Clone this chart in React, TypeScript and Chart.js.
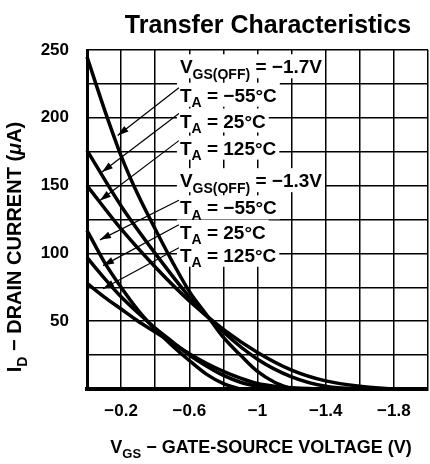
import React, { useEffect, useRef } from "react";
import { Chart, registerables } from "chart.js";

Chart.register(...registerables);

const FONT = '"Liberation Sans", Arial, Helvetica, sans-serif';

const chartTitle = "Transfer Characteristics";

// VGS(OFF) = -1.7 V
const vA = [0, -0.1, -0.2, -0.3, -0.4, -0.5, -0.6, -0.7, -0.8, -0.9, -1.0, -1.1, -1.2];
const iA = [245, 207, 172, 143, 118, 94, 72, 55, 38, 25, 13, 5, 0];
const vB = [0, -0.2, -0.4, -0.6, -0.8, -1.0, -1.2, -1.4, -1.6];
const iB = [176, 135, 100, 68, 42, 22, 9, 2, 0];
const vC = [0, -0.2, -0.4, -0.6, -0.8, -1.0, -1.2, -1.4, -1.6, -1.8];
const iC = [150, 118, 90, 65, 44, 27, 14, 6, 2, 0];
// VGS(OFF) = -1.3 V
const vD = [0, -0.1, -0.2, -0.3, -0.4, -0.5, -0.6, -0.7, -0.8, -0.9];
const iD = [117, 94, 75, 58, 44, 32, 21, 11, 4, 0];
const vE = [0, -0.1, -0.2, -0.3, -0.4, -0.5, -0.6, -0.7, -0.8, -0.9, -1.0, -1.1];
const iE = [97, 82, 68, 56, 45, 35, 25, 17, 10, 5, 2, 0];
const vF = [0, -0.1, -0.2, -0.3, -0.4, -0.5, -0.6, -0.7, -0.8, -0.9, -1.0, -1.1, -1.2, -1.3, -1.4];
const iF = [78, 68, 59, 50, 42, 34, 26, 19, 13, 8, 4, 2, 1, 0.3, 0];

const seriesNames = [
  "-1.7V, -55°C", "-1.7V, 25°C", "-1.7V, 125°C",
  "-1.3V, -55°C", "-1.3V, 25°C", "-1.3V, 125°C",
];
const seriesV = [vA, vB, vC, vD, vE, vF];
const seriesI = [iA, iB, iC, iD, iE, iF];

const xTickValues = [-0.2, -0.6, -1, -1.4, -1.8];
const xTickLabels = ["\u22120.2", "\u22120.6", "\u22121", "\u22121.4", "\u22121.8"];
const yTickValues = [50, 100, 150, 200, 250];

type Seg = { t: string; sub?: boolean; it?: boolean };

// annotation labels (data units)
const noteX = -0.545;
const noteY = [238, 217, 198, 178, 154, 134, 116, 99];
const noteText: Seg[][] = [
  [{ t: "V" }, { t: "GS(OFF)", sub: true }, { t: " = \u22121.7V" }],
  [{ t: "T" }, { t: "A", sub: true }, { t: " = \u221255\u00B0C" }],
  [{ t: "T" }, { t: "A", sub: true }, { t: " = 25\u00B0C" }],
  [{ t: "T" }, { t: "A", sub: true }, { t: " = 125\u00B0C" }],
  [{ t: "V" }, { t: "GS(OFF)", sub: true }, { t: " = \u22121.3V" }],
  [{ t: "T" }, { t: "A", sub: true }, { t: " = \u221255\u00B0C" }],
  [{ t: "T" }, { t: "A", sub: true }, { t: " = 25\u00B0C" }],
  [{ t: "T" }, { t: "A", sub: true }, { t: " = 125\u00B0C" }],
];
const arrowTipX = [null, -0.18, -0.088, -0.076, null, -0.076, -0.094, -0.094];
const arrowTipY = [null, 187, 160, 139, null, 110, 91, 74];

const xTitle: Seg[] = [{ t: "V" }, { t: "GS", sub: true }, { t: " \u2212 GATE-SOURCE VOLTAGE (V)" }];
const yTitle: Seg[] = [{ t: "I" }, { t: "D", sub: true }, { t: " \u2212 DRAIN CURRENT (" }, { t: "\u03BC", it: true }, { t: "A)" }];

function segFont(s: Seg, size: number) {
  const sz = s.sub ? Math.round(size * 0.72) : size;
  return `${s.it ? "italic " : ""}bold ${sz}px ${FONT}`;
}
function measure(ctx: CanvasRenderingContext2D, segs: Seg[], size: number) {
  let w = 0;
  for (const s of segs) {
    ctx.font = segFont(s, size);
    w += ctx.measureText(s.t).width;
  }
  return w;
}
function drawRich(ctx: CanvasRenderingContext2D, segs: Seg[], x: number, y: number, size: number) {
  let cx = x;
  ctx.textAlign = "left";
  ctx.textBaseline = "alphabetic";
  for (const s of segs) {
    ctx.font = segFont(s, size);
    ctx.fillText(s.t, cx, y + (s.sub ? size * 0.3 : 0));
    cx += ctx.measureText(s.t).width;
  }
}

const notesPlugin = {
  id: "notes",
  afterDatasetsDraw(chart: any) {
    const { ctx, scales } = chart;
    const x = scales.x, y = scales.y;
    const size = 19;
    const left = x.getPixelForValue(noteX);
    ctx.save();
    noteText.forEach((segs, i) => {
      const cy = y.getPixelForValue(noteY[i]);
      const w = measure(ctx, segs, size);
      ctx.fillStyle = "#fff";
      ctx.fillRect(left - 3, cy - 12, w + 6, 24);
    });
    noteText.forEach((segs, i) => {
      const cy = y.getPixelForValue(noteY[i]);
      ctx.fillStyle = "#000";
      drawRich(ctx, segs, left, cy + 7, size);
      const tx = arrowTipX[i], ty = arrowTipY[i];
      if (tx != null && ty != null) {
        const px = x.getPixelForValue(tx), py = y.getPixelForValue(ty);
        const sx = left - 1, sy = cy - 7;
        ctx.strokeStyle = "#000";
        ctx.lineWidth = 1.2;
        ctx.beginPath();
        ctx.moveTo(sx, sy);
        ctx.lineTo(px, py);
        ctx.stroke();
        const ang = Math.atan2(py - sy, px - sx);
        const L = 11, H = 3.5;
        ctx.beginPath();
        ctx.moveTo(px, py);
        ctx.lineTo(px - L * Math.cos(ang) + H * Math.sin(ang), py - L * Math.sin(ang) - H * Math.cos(ang));
        ctx.lineTo(px - L * Math.cos(ang) - H * Math.sin(ang), py - L * Math.sin(ang) + H * Math.cos(ang));
        ctx.closePath();
        ctx.fill();
      }
    });
    ctx.restore();
  },
  afterDraw(chart: any) {
    const { ctx } = chart;
    ctx.save();
    ctx.fillStyle = "#000";
    ctx.font = `bold 25px ${FONT}`;
    ctx.textAlign = "center";
    ctx.textBaseline = "alphabetic";
    ctx.fillText(chartTitle, 268, 33);
    const wx = measure(ctx, xTitle, 18);
    drawRich(ctx, xTitle, 261 - wx / 2, 453, 18);
    const wy = measure(ctx, yTitle, 20);
    ctx.translate(21, 247);
    ctx.rotate(-Math.PI / 2);
    drawRich(ctx, yTitle, -wy / 2, 0, 20);
    ctx.restore();
  },
};

export default function App() {
  const ref = useRef<HTMLCanvasElement>(null);
  useEffect(() => {
    const canvas = ref.current!;
    const tickFont = { family: FONT, weight: "bold" as const, size: 17 };
    const chart = new Chart(canvas, {
      type: "line",
      data: {
        datasets: seriesV.map((vs, k) => ({
          label: seriesNames[k],
          data: vs.map((v, j) => ({ x: v, y: seriesI[k][j] })),
          borderColor: "#000",
          backgroundColor: "#000",
          borderWidth: 3.5,
          pointRadius: 0,
          cubicInterpolationMode: "monotone" as const,
          fill: false,
          clip: false as any,
        })),
      },
      options: {
        responsive: false,
        animation: false,
        devicePixelRatio: 1,
        events: [],
        layout: { padding: { top: 50, right: 2, left: 0, bottom: 0 } },
        plugins: { legend: { display: false }, title: { display: false }, tooltip: { enabled: false } },
        scales: {
          x: {
            type: "linear",
            reverse: true,
            min: -2,
            max: 0,
            afterFit(s: any) {
              s.height = 75;
              s.paddingLeft = 0;
              s.paddingRight = 0;
            },
            ticks: {
              stepSize: 0.2,
              autoSkip: false,
              maxRotation: 0,
              padding: 12,
              color: "#000",
              font: tickFont,
              callback(v: any) {
                const k = xTickValues.findIndex((t) => Math.abs(t - Number(v)) < 1e-6);
                return k >= 0 ? xTickLabels[k] : "";
              },
            },
            grid: { color: "#000", lineWidth: 1.5, drawTicks: false },
            border: { color: "#000", width: 4 },
          },
          y: {
            type: "linear",
            min: 0,
            max: 250,
            afterFit(s: any) {
              s.width = 87;
              s.paddingTop = 0;
              s.paddingBottom = 0;
            },
            ticks: {
              stepSize: 25,
              autoSkip: false,
              padding: 18,
              color: "#000",
              font: tickFont,
              callback(v: any) {
                return yTickValues.includes(Number(v)) ? String(v) : "";
              },
            },
            grid: { color: "#000", lineWidth: 1.5, drawTicks: false },
            border: { color: "#000", width: 3 },
          },
        },
      },
      plugins: [notesPlugin],
    });
    return () => chart.destroy();
  }, []);
  return (
    <div style={{ position: "fixed", left: 0, top: 0, width: 430, height: 464, background: "#fff" }}>
      <canvas ref={ref} width={430} height={464} style={{ display: "block" }} />
    </div>
  );
}
